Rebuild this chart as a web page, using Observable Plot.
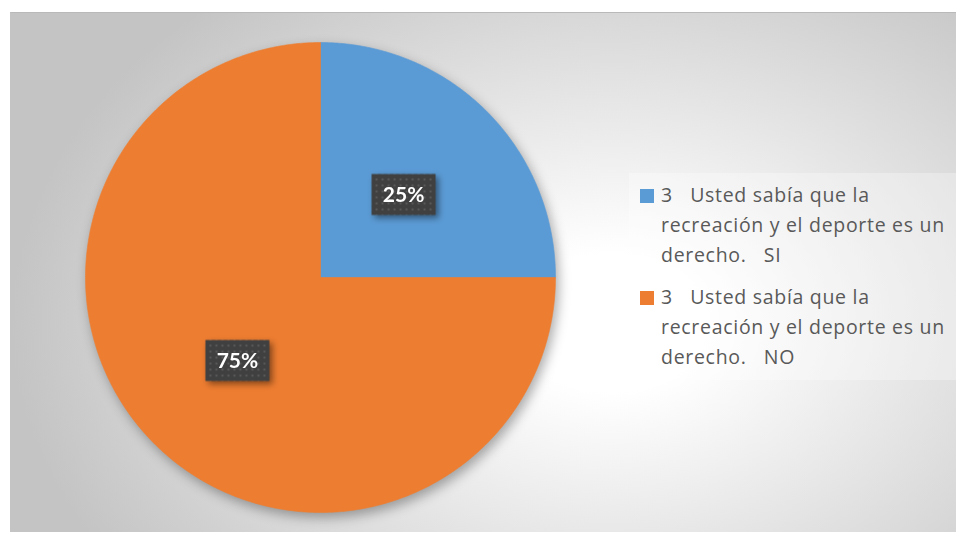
<!DOCTYPE html>
<html>
<head>
<meta charset="utf-8">
<script src="https://cdn.jsdelivr.net/npm/d3@7"></script>
<script src="https://cdn.jsdelivr.net/npm/@observablehq/plot@0.6"></script>
<style>
  html, body { margin: 0; padding: 0; background: #ffffff; }
  #wrap { position: relative; width: 956px; height: 535px; overflow: hidden; background: #ffffff; font-family: "Open Sans", Lato, sans-serif; }
  #bg {
    position: absolute; left: 10px; top: 12px; width: 946px; height: 520px;
    box-sizing: border-box;
    border-top: 1.5px solid #b9b9b9; border-left: 1.5px solid #c4c4c4;
    background: radial-gradient(ellipse 600px 430px at 600px 310px, #ffffff 0%, #ffffff 16%, #c4c4c4 100%);
  }
  #chart { position: absolute; left: 0; top: 0; }
  #legend {
    position: absolute; left: 629px; top: 173px; width: 327px; height: 207px;
    box-sizing: border-box; background: rgba(255,255,255,0.3);
    padding: 7px 0 0 11px; color: #595959; font-size: 19.5px; letter-spacing: 0.7px; line-height: 30px;
  }
  .item { display: flex; align-items: flex-start; margin-bottom: 12px; }
  .sw { width: 14px; height: 14px; margin-top: 9px; margin-right: 7px; flex: none; }
  .txt span { display: block; white-space: pre; }
</style>
</head>
<body>
<div id="wrap">
  <div id="bg"></div>
  <div id="chart"></div>
  <div id="legend"></div>
</div>
<script>
// ---- data ----
const categories = ["SI", "NO"];
const legendLines = [
  ["3   Usted sabía que la", "recreación y el deporte es un", "derecho.   SI"],
  ["3   Usted sabía que la", "recreación y el deporte es un", "derecho.   NO"]
];
const values = [25, 75];
const sliceColors = ["#5B9BD5", "#ED7D31"];

// ---- geometry of slices (unit circle, angles clockwise from 12 o'clock) ----
const total = d3.sum(values);
const arcs = d3.pie().sort(null).value(d => d)(values);
const slicePts = [];
arcs.forEach((a, i) => {
  const key = categories[i];
  slicePts.push({key, px: 0, py: 0});
  const n = Math.max(2, Math.ceil((a.endAngle - a.startAngle) / (Math.PI / 360)));
  for (let k = 0; k <= n; k++) {
    const t = a.startAngle + (a.endAngle - a.startAngle) * k / n;
    slicePts.push({key, px: Math.sin(t), py: Math.cos(t)});
  }
  slicePts.push({key, px: 0, py: 0});
});
const labels = arcs.map((a, i) => {
  const m = (a.startAngle + a.endAngle) / 2;
  return {key: categories[i], px: 0.5 * Math.sin(m), py: 0.5 * Math.cos(m),
          text: Math.round(values[i] / total * 100) + "%"};
});

const boxSymbol = { draw(ctx) { ctx.moveTo(-32, -20.5); ctx.lineTo(32, -20.5); ctx.lineTo(32, 20.5); ctx.lineTo(-32, 20.5); ctx.closePath(); } };

const chart = Plot.plot({
  width: 956, height: 535,
  marginLeft: 85, marginRight: 401, marginTop: 42, marginBottom: 23,
  x: {domain: [-1, 1], axis: null},
  y: {domain: [-1, 1], axis: null},
  color: {domain: categories, range: sliceColors},
  style: {background: "transparent", overflow: "visible"},
  marks: [
    Plot.line(slicePts, {x: "px", y: "py", z: "key", fill: "key", stroke: "key", strokeWidth: 0.6, curve: "linear"}),
    Plot.dot(labels, {x: "px", y: "py", symbol: boxSymbol, r: 5, fill: "url(#dotpat)", stroke: "none"}),
    Plot.text(labels, {x: "px", y: "py", text: "text", fill: "white", fontSize: 21, fontWeight: "bold", fontFamily: "Lato, sans-serif", dy: 1})
  ]
});

const svg = d3.select(chart);
svg.insert("defs", ":first-child").html(
  '<pattern id="dotpat" patternUnits="userSpaceOnUse" width="6" height="6">' +
  '<rect width="6" height="6" fill="#404040"/>' +
  '<rect x="2" y="2" width="2" height="2" fill="#5a5a5a"/></pattern>'
);
svg.selectAll('g[aria-label="line"]').style("filter", "drop-shadow(3px 5px 6px rgba(0,0,0,0.32))");
svg.selectAll('g[aria-label="dot"]').style("filter", "drop-shadow(3px 3px 3px rgba(0,0,0,0.45))");
document.getElementById("chart").appendChild(chart);

// ---- legend ----
const color = chart.scale("color");
const legend = d3.select("#legend");
categories.forEach((c, i) => {
  const it = legend.append("div").attr("class", "item");
  it.append("div").attr("class", "sw").style("background", color.apply(c));
  const t = it.append("div").attr("class", "txt");
  legendLines[i].forEach(l => t.append("span").text(l));
});
</script>
</body>
</html>
